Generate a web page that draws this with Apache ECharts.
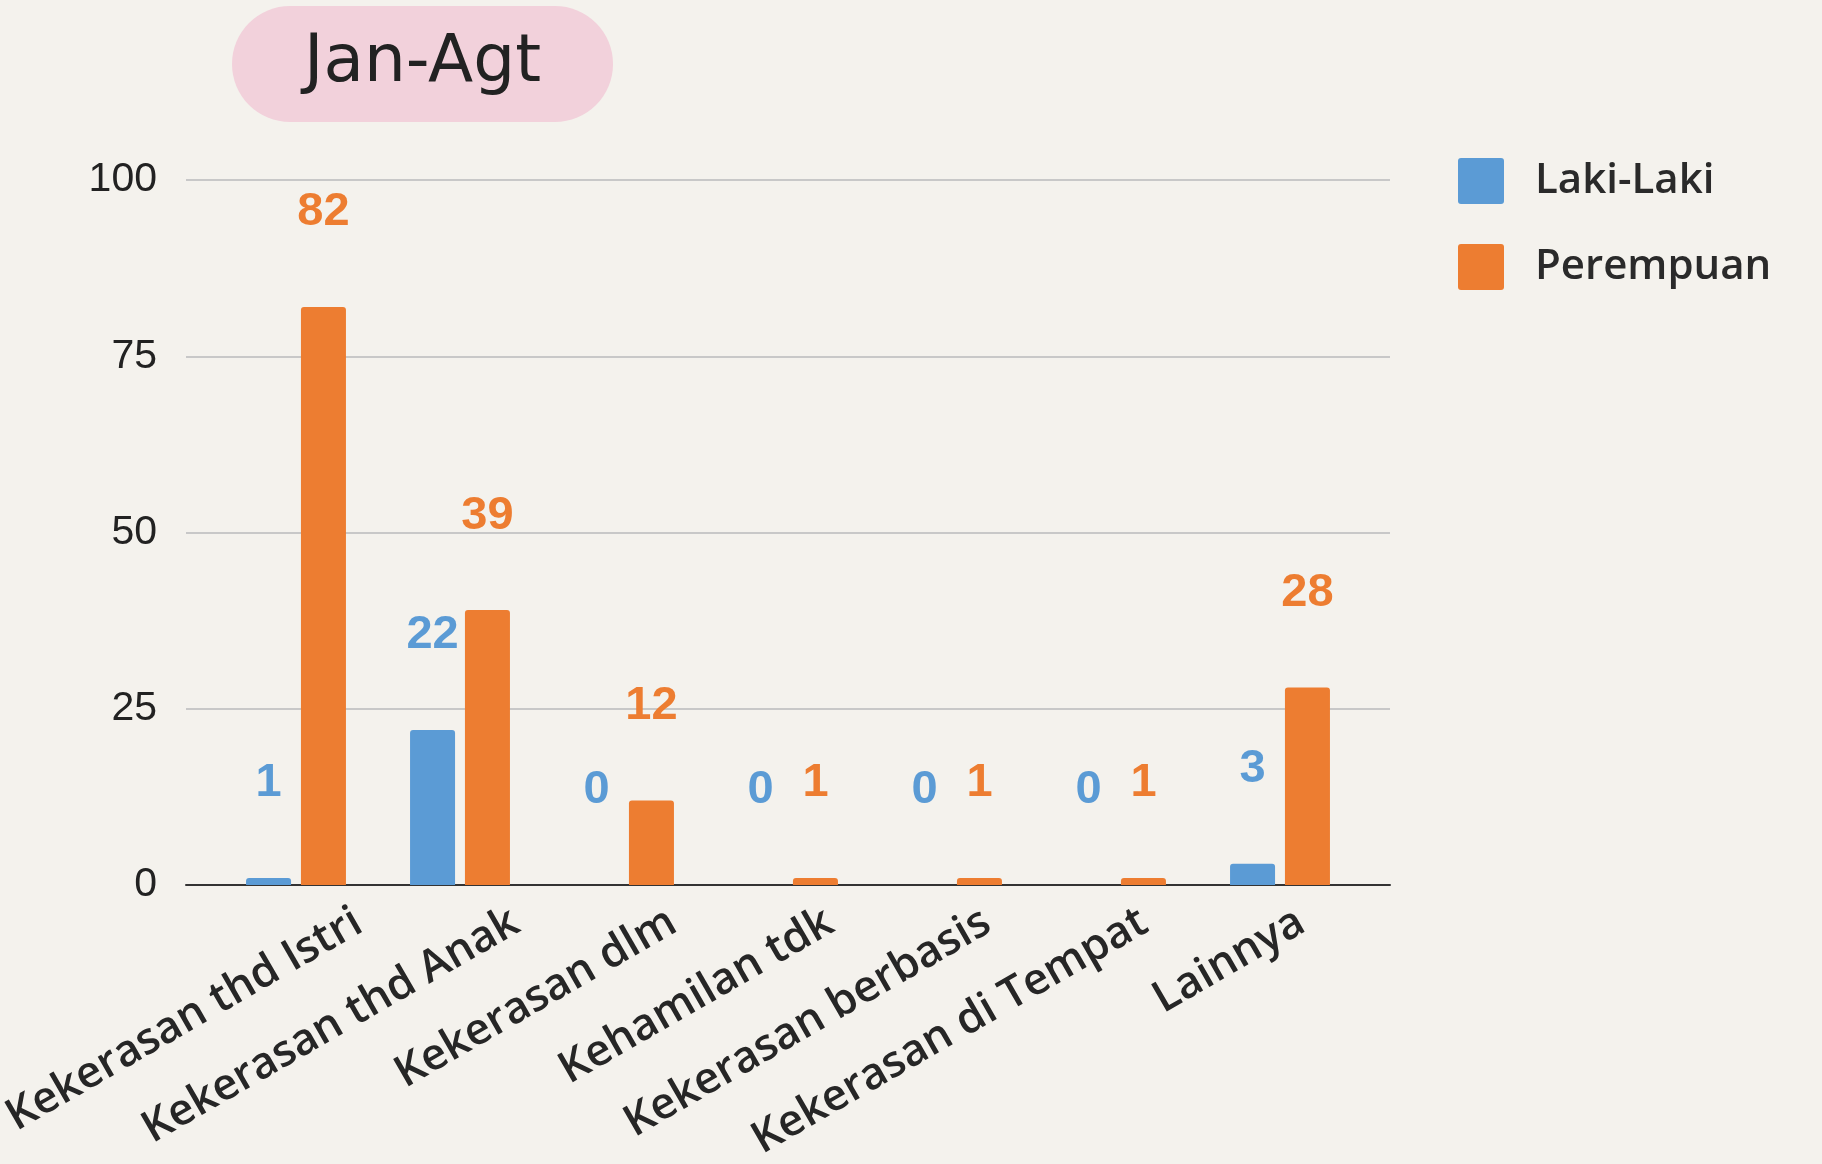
<!DOCTYPE html>
<html>
<head>
<meta charset="utf-8">
<script src="https://cdn.jsdelivr.net/npm/echarts@6/dist/echarts.min.js"></script>
<style>
  html, body { margin: 0; padding: 0; background: #f4f2ed; }
  #main { width: 1822px; height: 1164px; }
</style>
</head>
<body>
<div id="main"></div>
<script>
// data
var categories = ['Kekerasan thd Istri', 'Kekerasan thd Anak', 'Kekerasan dlm', 'Kehamilan tdk', 'Kekerasan berbasis', 'Kekerasan di Tempat', 'Lainnya'];
var lakiLaki = [1, 22, 0, 0, 0, 0, 3];
var perempuan = [82, 39, 12, 1, 1, 1, 28];
var yTicks = [0, 25, 50, 75, 100];

var blue = '#5b9bd5';
var orange = '#ed7d31';

var chart = echarts.init(document.getElementById('main'));

function labelOf(color) {
  return {
    show: true,
    position: 'top',
    distance: 71,
    color: color,
    fontFamily: 'Liberation Sans',
    fontWeight: 'bold',
    fontSize: 47
  };
}

var option = {
  backgroundColor: '#f4f2ed',
  animation: false,
  title: {
    text: 'Jan-Agt',
    left: 232,
    top: 6,
    backgroundColor: '#f2d1db',
    borderRadius: 60,
    padding: [25, 72, 25, 72],
    textStyle: { fontFamily: 'DejaVu Sans', fontWeight: 'normal', fontSize: 66, color: '#222' }
  },
  legend: {
    data: ['Laki-Laki', 'Perempuan'],
    orient: 'vertical',
    left: 1453,
    top: 153,
    itemWidth: 46,
    itemHeight: 46,
    itemGap: 40,
    icon: 'path://M3,0 L43,0 Q46,0 46,3 L46,43 Q46,46 43,46 L3,46 Q0,46 0,43 L0,3 Q0,0 3,0 Z',
    textStyle: { fontFamily: 'Open Sans', fontWeight: 600, fontSize: 42, color: '#2a2a2a', padding: [0, 0, 0, 26] }
  },
  grid: [
    { left: 186, right: 432, top: 180, bottom: 279 },
    { left: 214, right: 460, top: 180, bottom: 279 },
    { left: 232, right: 442, top: 180, bottom: 279 }
  ],
  xAxis: [
    {
      gridIndex: 0, type: 'value', min: 0, max: 1,
      axisLine: { show: true, lineStyle: { color: '#333', width: 2 } },
      axisTick: { show: false }, axisLabel: { show: false }, splitLine: { show: false }
    },
    {
      gridIndex: 1, type: 'category', data: categories,
      axisLine: { show: false }, axisTick: { show: false }, axisLabel: { show: false }
    },
    {
      // label-only axis, a bit to the right like the reference
      gridIndex: 2, type: 'category', data: categories,
      axisLine: { show: false }, axisTick: { show: false },
      axisLabel: {
        rotate: 30, interval: 0, margin: 62,
        fontFamily: 'Open Sans', fontWeight: 600, fontSize: 44, color: '#262626'
      }
    }
  ],
  yAxis: [
    {
      gridIndex: 0, type: 'value', min: 0, max: 100, interval: 25,
      axisLine: { show: false }, axisTick: { show: false },
      axisLabel: {
        margin: 29, fontFamily: 'Liberation Sans', fontSize: 41, color: '#222',
        formatter: function (v) { return yTicks.indexOf(v) >= 0 ? String(v) : ''; }
      },
      splitLine: { lineStyle: { color: '#c8c8c8', width: 2 } }
    },
    { gridIndex: 1, type: 'value', min: 0, max: 100, show: false },
    { gridIndex: 2, type: 'value', min: 0, max: 100, show: false }
  ],
  series: [
    {
      name: 'Laki-Laki', type: 'bar', xAxisIndex: 1, yAxisIndex: 1,
      data: lakiLaki, barWidth: 45, barGap: '22%',
      itemStyle: { color: blue, borderRadius: [3, 3, 0, 0] },
      label: labelOf(blue)
    },
    {
      name: 'Perempuan', type: 'bar', xAxisIndex: 1, yAxisIndex: 1,
      data: perempuan, barWidth: 45, barGap: '22%',
      itemStyle: { color: orange, borderRadius: [3, 3, 0, 0] },
      label: labelOf(orange)
    }
  ]
};

chart.setOption(option);
</script>
</body>
</html>
